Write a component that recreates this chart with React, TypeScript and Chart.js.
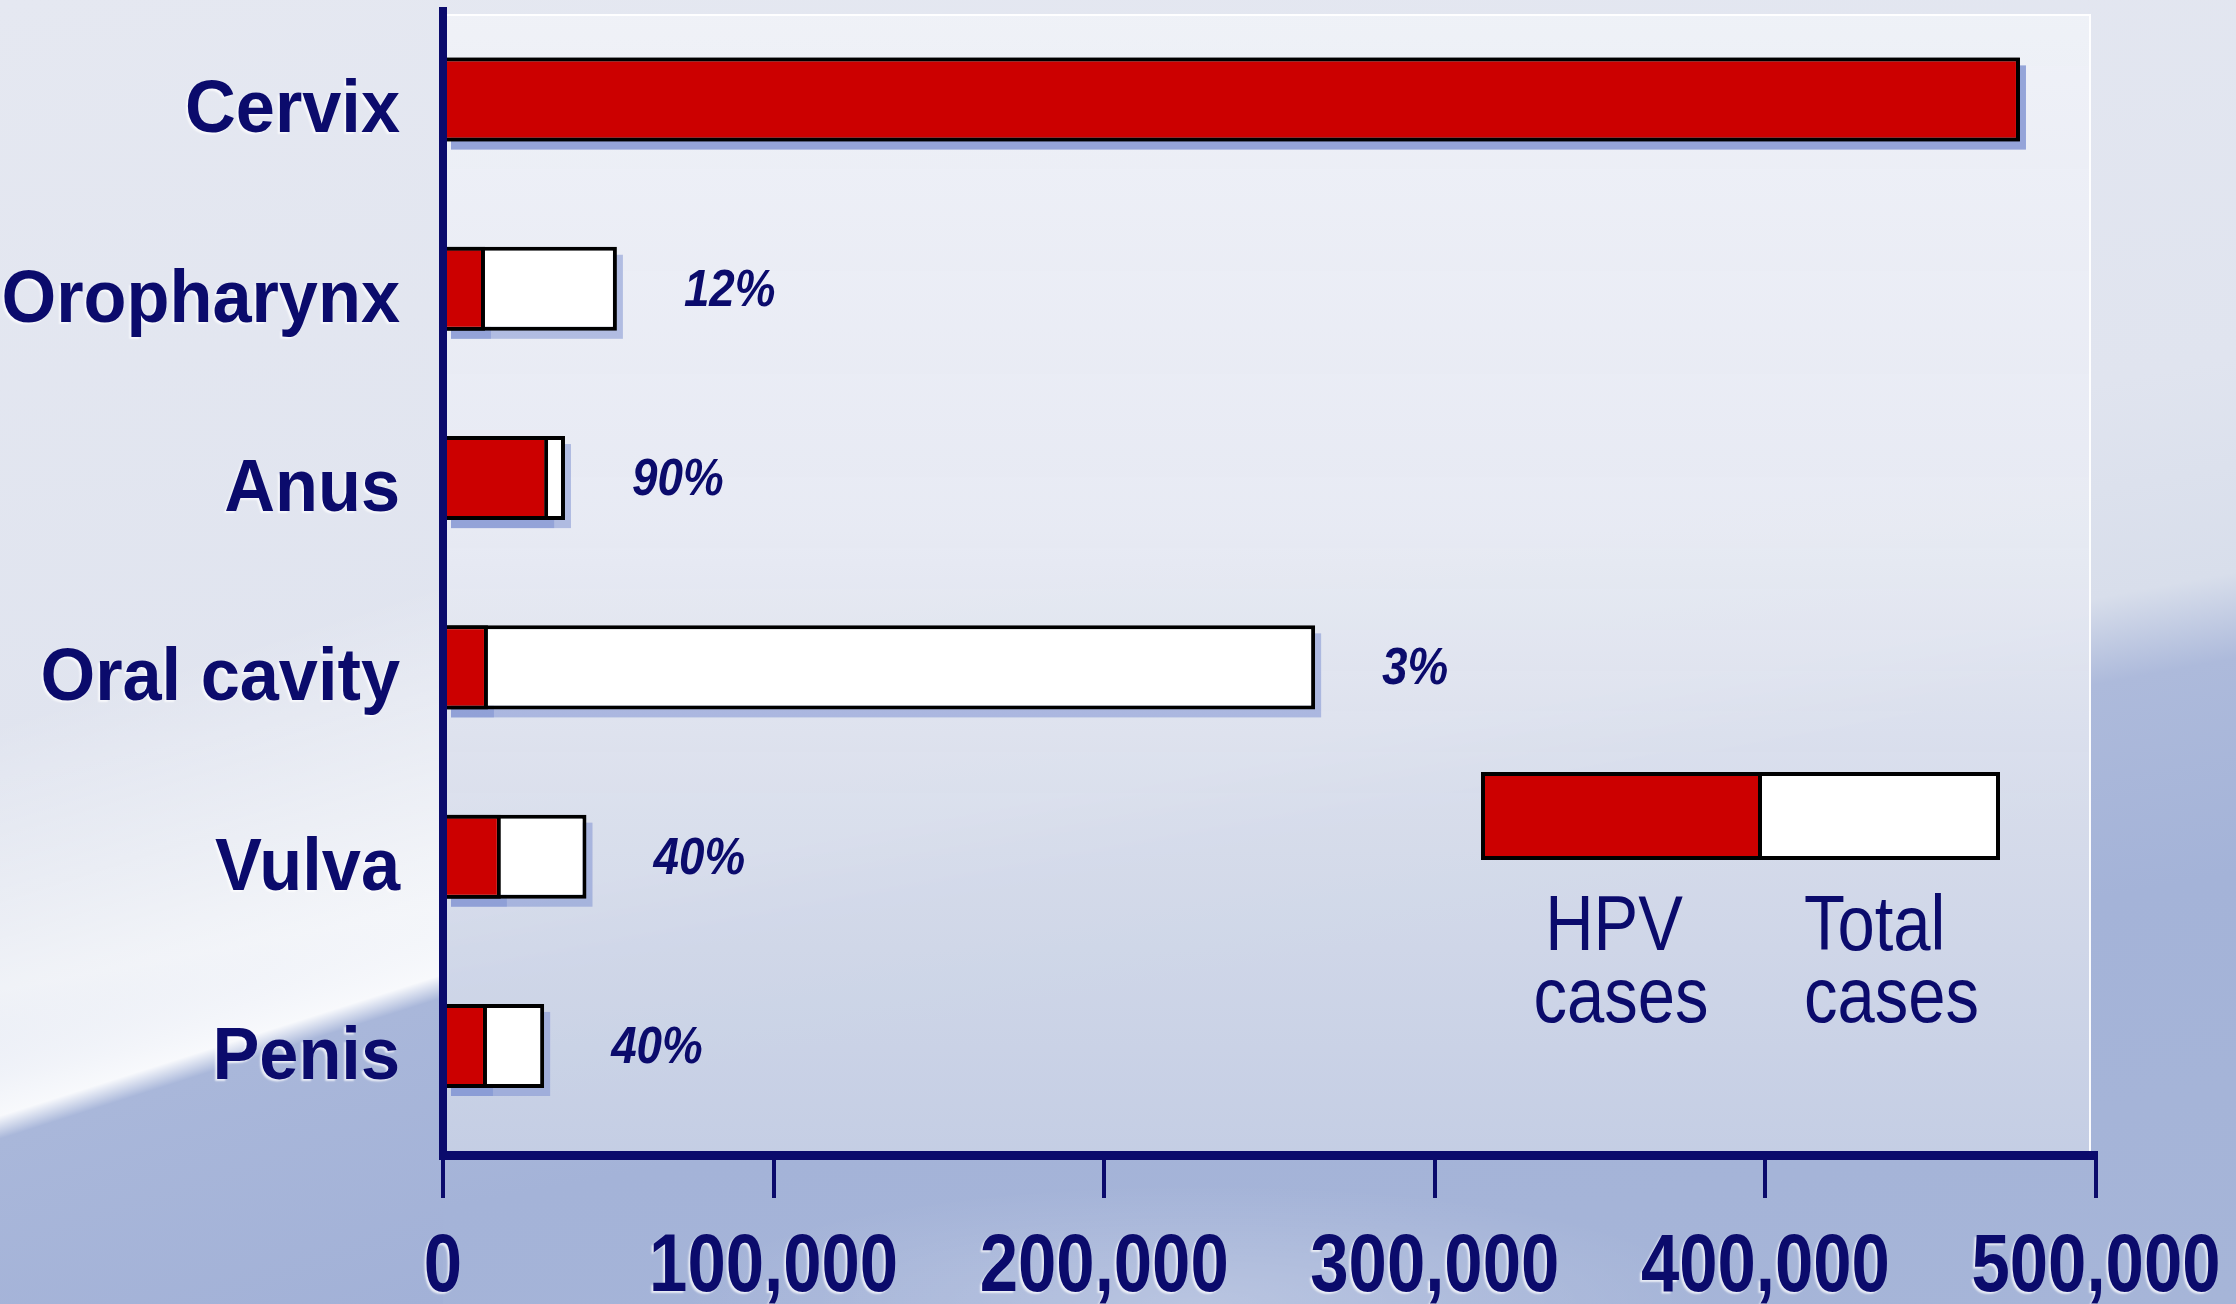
import React, { useEffect, useRef } from 'react';
import { Chart, registerables } from 'chart.js';

Chart.register(...registerables);

// ---- data ----
const categories = ['Cervix', 'Oropharynx', 'Anus', 'Oral cavity', 'Vulva', 'Penis'];
const hpvCases = [477000, 12700, 31800, 13600, 17500, 13300];
const totalCases = [477000, 52600, 36900, 263800, 43400, 30600];
const hpvPercentLabels = ['', '12%', '90%', '3%', '40%', '40%'];
const xTickValues = [0, 100000, 200000, 300000, 400000, 500000];
const xTickLabels = ['0', '100,000', '200,000', '300,000', '400,000', '500,000'];
const legendHpvLines = ['HPV', 'cases'];
const legendTotalLines = ['Total', 'cases'];

// ---- style ----
const NAVY = '#0b0b6c';
const RED = '#cc0000';
const FONT = '"Liberation Sans", Arial, sans-serif';
const W = 2236;
const H = 1304;
const Y_MIN = -0.4675;
const Y_MAX = 5.576;

function drawText(
  ctx: CanvasRenderingContext2D,
  text: string,
  x: number,
  y: number,
  font: string,
  align: CanvasTextAlign,
  scaleX: number,
  shadow: boolean
) {
  ctx.save();
  ctx.font = font;
  ctx.fillStyle = NAVY;
  ctx.textAlign = align;
  ctx.textBaseline = 'alphabetic';
  if (shadow) {
    ctx.shadowColor = 'rgba(255,255,255,0.75)';
    ctx.shadowOffsetX = -2;
    ctx.shadowOffsetY = 2;
    ctx.shadowBlur = 2;
  }
  ctx.translate(x, y);
  ctx.scale(scaleX, 1);
  ctx.fillText(text, 0, 0);
  ctx.restore();
}

const decorPlugin = {
  id: 'decor',
  beforeDraw(chart: any) {
    const { ctx, chartArea } = chart;
    ctx.save();
    const left = chartArea.left;
    const right = chartArea.right - 6;
    const top = chartArea.top + 4;
    const bottom = chartArea.bottom;
    const g = ctx.createLinearGradient(0, top, 0, bottom);
    g.addColorStop(0, 'rgba(239,241,247,0.97)');
    g.addColorStop(0.45, 'rgba(231,234,243,0.95)');
    g.addColorStop(0.7, 'rgba(218,223,236,0.92)');
    g.addColorStop(1, 'rgba(199,208,229,0.92)');
    ctx.fillStyle = g;
    ctx.fillRect(left, top, right - left, bottom - top);
    ctx.strokeStyle = 'rgba(255,255,255,0.95)';
    ctx.lineWidth = 2;
    ctx.strokeRect(left, top, right - left, bottom - top);
    ctx.restore();
  },
  beforeDatasetsDraw(chart: any) {
    const { ctx } = chart;
    ctx.save();
    ctx.fillStyle = 'rgba(120,140,208,0.5)';
    [1, 0].forEach((di) => {
      const meta = chart.getDatasetMeta(di);
      meta.data.forEach((bar: any) => {
        const { x, y, base, height } = bar.getProps(['x', 'y', 'base', 'height'], true);
        ctx.fillRect(base + 6, y - height / 2 + 8, x - base, height);
      });
    });
    ctx.restore();
  },
  afterDatasetsDraw(chart: any) {
    const { ctx } = chart;
    const meta = chart.getDatasetMeta(1);
    meta.data.forEach((bar: any, i: number) => {
      const label = hpvPercentLabels[i];
      if (label) drawText(ctx, label, bar.x + 67, bar.y + 17, `italic bold 52px ${FONT}`, 'left', 0.88, false);
    });
  },
  afterDraw(chart: any) {
    const { ctx } = chart;
    const xScale = chart.scales.x;
    const yScale = chart.scales.y;

    // category labels (y axis)
    yScale.ticks.forEach((t: any, i: number) => {
      const py = yScale.getPixelForTick(i);
      drawText(ctx, categories[t.value], yScale.right - 43, py + 33, `bold 74px ${FONT}`, 'right', 0.95, true);
    });
    // value labels (x axis)
    xScale.ticks.forEach((t: any, i: number) => {
      const px = xScale.getPixelForTick(i);
      drawText(ctx, xTickLabels[i], px, 1291, `bold 82px ${FONT}`, 'center', 0.84, true);
    });

    // legend
    ctx.save();
    const lx = 1483, ly = 774, lw = 515, lh = 84, split = 1760;
    ctx.fillStyle = RED;
    ctx.fillRect(lx, ly, split - lx, lh);
    ctx.fillStyle = '#ffffff';
    ctx.fillRect(split, ly, lx + lw - split, lh);
    ctx.strokeStyle = '#000000';
    ctx.lineWidth = 4;
    ctx.strokeRect(lx, ly, lw, lh);
    ctx.beginPath();
    ctx.moveTo(split, ly);
    ctx.lineTo(split, ly + lh);
    ctx.stroke();
    ctx.restore();
    const lf = `77px ${FONT}`;
    drawText(ctx, legendHpvLines[0], 1614, 950, lf, 'center', 0.87, false);
    drawText(ctx, legendHpvLines[1], 1621, 1022, lf, 'center', 0.87, false);
    drawText(ctx, legendTotalLines[0], 1804, 950, lf, 'left', 0.87, false);
    drawText(ctx, legendTotalLines[1], 1804, 1022, lf, 'left', 0.87, false);
  },
};

export default function App() {
  const canvasRef = useRef<HTMLCanvasElement | null>(null);

  useEffect(() => {
    const canvas = canvasRef.current;
    if (!canvas) return;
    const chart = new Chart(canvas, {
      type: 'bar',
      data: {
        datasets: [
          {
            label: 'HPV cases',
            data: hpvCases.map((v, i) => ({ x: v, y: i })),
            backgroundColor: RED,
            borderColor: '#000000',
            borderWidth: 4,
            grouped: false,
            categoryPercentage: 1,
            barPercentage: 0.444,
          },
          {
            label: 'Total cases',
            data: totalCases.map((v, i) => ({ x: v, y: i })),
            backgroundColor: '#ffffff',
            borderColor: '#000000',
            borderWidth: 4,
            grouped: false,
            categoryPercentage: 1,
            barPercentage: 0.444,
          },
        ],
      } as any,
      options: {
        indexAxis: 'y',
        responsive: false,
        animation: false,
        devicePixelRatio: 1,
        layout: { padding: { top: 11, right: 140, left: 0, bottom: 0 } },
        plugins: {
          legend: { display: false },
          tooltip: { enabled: false },
        },
        scales: {
          x: {
            type: 'linear',
            position: 'bottom',
            offset: false,
            min: 0,
            max: 500000,
            afterBuildTicks: (axis: any) => {
              axis.ticks = xTickValues.map((v) => ({ value: v }));
              axis.min = 0;
              axis.max = 500000;
            },
            afterFit: (scale: any) => {
              scale.height = H - 1155;
              scale.paddingLeft = 0;
              scale.paddingRight = 0;
              scale.paddingTop = 0;
              scale.paddingBottom = 0;
            },
            ticks: { display: false, autoSkip: false },
            grid: {
              display: true,
              offset: false,
              drawOnChartArea: false,
              drawTicks: true,
              tickLength: 43,
              lineWidth: 4,
              color: NAVY,
            },
            border: { display: true, color: NAVY, width: 9 },
          },
          y: {
            type: 'linear',
            position: 'left',
            reverse: true,
            offset: false,
            min: Y_MIN,
            max: Y_MAX,
            bounds: 'data',
            grace: 0,
            afterBuildTicks: (axis: any) => {
              axis.ticks = categories.map((_, i) => ({ value: i }));
              axis.min = Y_MIN;
              axis.max = Y_MAX;
            },
            afterFit: (scale: any) => {
              scale.width = 443;
              scale.paddingLeft = 0;
              scale.paddingRight = 0;
              scale.paddingTop = 0;
              scale.paddingBottom = 0;
            },
            ticks: { display: false, autoSkip: false },
            grid: { display: false, drawTicks: false, offset: false },
            border: { display: true, color: NAVY, width: 8, z: 1 },
          },
        },
      } as any,
      plugins: [decorPlugin],
    });
    return () => chart.destroy();
  }, []);

  const bg = [
    // left strip (outside the plot panel): white glow above a blue wedge
    'linear-gradient(162.3deg, rgba(255,255,255,0) 50%, rgba(255,255,255,0.6) 68%, rgba(250,251,253,0.97) 77.2%, rgba(169,183,218,1) 78.8%, #a2b1d7 100%) 0 0 / 443px 1304px no-repeat',
    // soft light patch at the bottom
    'radial-gradient(ellipse 520px 120px at 1200px 1304px, rgba(255,255,255,0.22), rgba(255,255,255,0) 100%)',
    // main background
    'linear-gradient(169.4deg, #e5e8f1 0%, #e0e4ef 45%, #d8deeb 57.5%, #adbadb 62.5%, #a4b3d8 75%, #a6b5d8 100%)',
  ].join(', ');

  return (
    <div
      style={{
        position: 'fixed',
        left: 0,
        top: 0,
        width: W,
        height: H,
        background: bg,
        overflow: 'hidden',
      }}
    >
      <canvas ref={canvasRef} width={W} height={H} style={{ display: 'block', width: W, height: H }} />
    </div>
  );
}
